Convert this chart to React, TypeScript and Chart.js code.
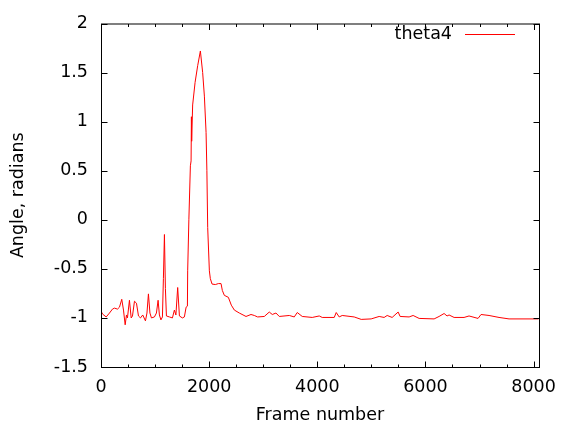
import React, { useEffect, useRef } from "react";
import { Chart, registerables } from "chart.js";

Chart.register(...registerables);

const seriesLabel = "theta4";
const xTitle = "Frame number";
const yTitle = "Angle, radians";

const frames = [
  0, 28, 96, 157, 212, 249, 305, 342, 384, 416, 447, 471, 489, 526, 558, 582, 619, 656, 693, 730,
  772, 822, 850, 877, 905, 933, 988, 1025, 1056, 1080, 1108, 1136, 1154, 1173, 1191, 1210, 1265, 1321,
  1357, 1385, 1418, 1450, 1505, 1542, 1574, 1598, 1603, 1625, 1653, 1666, 1672, 1677, 1695, 1740, 1788,
  1838, 1880, 1912, 1943, 1958, 1973, 2004, 2022, 2054, 2115, 2170, 2220, 2244, 2281, 2355, 2410, 2466,
  2558, 2682, 2774, 2835, 2896, 3020, 3112, 3168, 3236, 3297, 3482, 3574, 3629, 3722, 3906, 4036, 4091,
  4313, 4350, 4405, 4461, 4682, 4812, 4996, 5144, 5236, 5292, 5384, 5495, 5532, 5698, 5772, 5883, 6160,
  6252, 6345, 6400, 6437, 6530, 6714, 6806, 6973, 7028, 7176, 7361, 7546, 8090,
];

const theta4 = [
  -0.93, -0.96, -0.99, -0.95, -0.91, -0.9, -0.91, -0.89, -0.81, -0.92, -1.07, -0.97, -1.0, -0.82, -1.0, -0.98, -0.83, -0.85, -0.98, -1.0,
  -0.97, -1.03, -0.95, -0.755, -0.95, -1.0, -0.99, -0.95, -0.82, -0.97, -1.02, -0.99, -0.6, -0.15, -0.7, -0.98, -0.99, -1.0,
  -0.92, -0.97, -0.69, -0.98, -1.0, -0.99, -0.89, -0.88, -0.52, 0.0, 0.55, 0.6, 1.05, 0.8, 1.17, 1.4, 1.57,
  1.72, 1.5, 1.26, 0.89, 0.5, -0.08, -0.52, -0.6, -0.655, -0.66, -0.65, -0.65, -0.72, -0.77, -0.79, -0.87, -0.92,
  -0.95, -0.985, -0.965, -0.975, -0.99, -0.985, -0.94, -0.965, -0.95, -0.985, -0.975, -0.99, -0.945, -0.985, -0.995, -0.98, -0.995,
  -0.995, -0.945, -0.99, -0.975, -0.99, -1.015, -1.01, -0.985, -0.995, -0.975, -0.995, -0.94, -0.985, -0.99, -0.975, -1.005, -1.01,
  -0.985, -0.955, -0.98, -0.97, -0.995, -0.995, -0.98, -1.005, -0.965, -0.975, -0.995, -1.01, -1.01,
];

const xTickValues = [0, 2000, 4000, 6000, 8000];
const yTickValues = [-1.5, -1, -0.5, 0, 0.5, 1, 1.5, 2];
const xMin = 0;
const xMax = 8100;
const xMinorStep = 500;

const FONT = "'DejaVu Sans', sans-serif";
const FONT_SIZE = 17.5;

const framePlugin = {
  id: "gnuplotFrame",
  afterDraw(chart: any) {
    const { ctx, chartArea } = chart;
    const xs = chart.scales.x;
    const ys = chart.scales.y;
    const { left, right, top, bottom } = chartArea;
    ctx.save();
    ctx.strokeStyle = "#000";
    ctx.lineWidth = 1;
    ctx.setLineDash([]);
    ctx.beginPath();
    for (let v = xMin; v <= xMax; v += xMinorStep) {
      const major = xTickValues.includes(v);
      const len = major ? 6 : 3;
      const px = Math.round(xs.getPixelForValue(v)) + 0.5;
      ctx.moveTo(px, bottom + 0.5);
      ctx.lineTo(px, bottom + 0.5 - len);
      ctx.moveTo(px, top + 0.5);
      ctx.lineTo(px, top + 0.5 + len);
    }
    for (const v of yTickValues) {
      const py = Math.round(ys.getPixelForValue(v)) + 0.5;
      ctx.moveTo(left + 0.5, py);
      ctx.lineTo(left + 0.5 + 6, py);
      ctx.moveTo(right + 0.5, py);
      ctx.lineTo(right + 0.5 - 6, py);
    }
    ctx.stroke();
    ctx.strokeRect(left + 0.5, top + 0.5, right - left, bottom - top);

    const ds = chart.data.datasets[0];
    ctx.fillStyle = "#000";
    ctx.font = `${FONT_SIZE}px ${FONT}`;
    ctx.textAlign = "right";
    ctx.textBaseline = "middle";
    ctx.fillText(ds.label, 452, 34);
    ctx.strokeStyle = ds.borderColor;
    ctx.beginPath();
    ctx.moveTo(465, 34.5);
    ctx.lineTo(515, 34.5);
    ctx.stroke();
    ctx.restore();
  },
};

export default function App() {
  const ref = useRef<HTMLCanvasElement | null>(null);
  useEffect(() => {
    if (!ref.current) return;
    const points = frames.map((f, i) => ({ x: f, y: theta4[i] }));
    const chart = new Chart(ref.current, {
      type: "line",
      data: {
        datasets: [
          {
            label: seriesLabel,
            data: points,
            borderColor: "#ff0000",
            backgroundColor: "#ff0000",
            borderWidth: 1,
            borderDash: [100000, 0],
            pointRadius: 0,
            tension: 0,
            fill: false,
          },
        ],
      },
      options: {
        animation: false,
        responsive: false,
        maintainAspectRatio: false,
        layout: { padding: { left: 0, right: 28, top: 20, bottom: 0 } },
        plugins: {
          legend: { display: false },
          tooltip: { enabled: false },
        },
        scales: {
          x: {
            type: "linear",
            min: xMin,
            max: xMax,
            grid: { display: false, drawTicks: false },
            border: { display: false },
            afterBuildTicks: (s: any) => {
              s.ticks = xTickValues.map((v) => ({ value: v }));
            },
            ticks: {
              autoSkip: false,
              maxRotation: 0,
              padding: 10,
              color: "#000",
              font: { family: FONT, size: FONT_SIZE },
              callback: (v: any) => String(v),
            },
            title: {
              display: true,
              text: xTitle,
              color: "#000",
              font: { family: FONT, size: FONT_SIZE },
              padding: { top: 0, bottom: 2 },
            },
            afterFit: (s: any) => {
              s.height = 61;
            },
          },
          y: {
            type: "linear",
            min: -1.5,
            max: 2,
            grid: { display: false, drawTicks: false },
            border: { display: false },
            afterBuildTicks: (s: any) => {
              s.ticks = yTickValues.map((v) => ({ value: v }));
            },
            ticks: {
              padding: 13,
              color: "#000",
              font: { family: FONT, size: FONT_SIZE },
              callback: (v: any) => String(v),
            },
            title: {
              display: true,
              text: yTitle,
              color: "#000",
              font: { family: FONT, size: FONT_SIZE },
              padding: { top: 8, bottom: 0 },
            },
            afterFit: (s: any) => {
              s.width = 101;
            },
          },
        },
      },
      plugins: [framePlugin],
    });
    return () => chart.destroy();
  }, []);
  return (
    <div style={{ position: "fixed", left: 0, top: 0, width: 567, height: 428, background: "#fff" }}>
      <canvas ref={ref} width={567} height={428} style={{ width: 567, height: 428, display: "block" }} />
    </div>
  );
}
